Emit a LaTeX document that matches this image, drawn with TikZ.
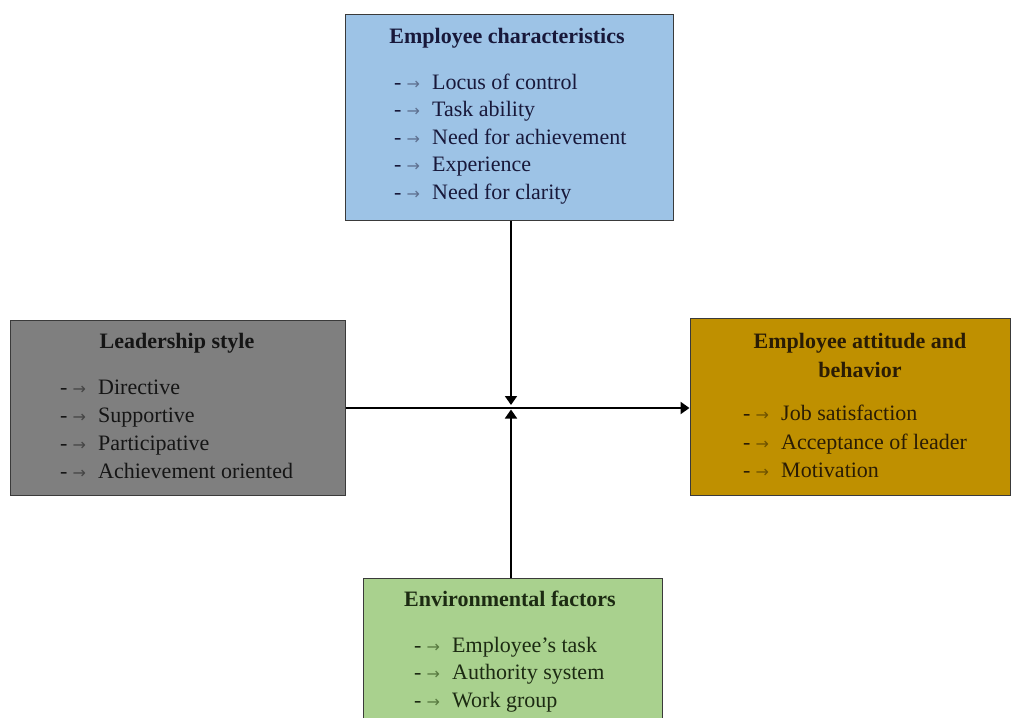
\documentclass[tikz,border=0pt]{standalone}
\usepackage{fontspec}
\setmainfont{Liberation Serif}
\newfontfamily\arrowfont{DejaVu Sans}
\usetikzlibrary{arrows.meta}

% box fills and borders
\definecolor{charblue}{HTML}{9DC3E6}
\definecolor{stylegray}{HTML}{7F7F7F}
\definecolor{outgold}{HTML}{BF9000}
\definecolor{envgreen}{HTML}{A9D18E}
\definecolor{boxedge}{HTML}{3A3A3A}
% text colours per box
\definecolor{chartext}{HTML}{18183A}
\definecolor{chararrow}{HTML}{5E7090}
\definecolor{styletext}{HTML}{151515}
\definecolor{stylearrow}{HTML}{454545}
\definecolor{outtext}{HTML}{2A1C05}
\definecolor{outarrow}{HTML}{6E5200}
\definecolor{envtext}{HTML}{1C2A12}
\definecolor{envarrow}{HTML}{587A40}

% "- ->" prefix of a list entry, hung to the left of the entry text
\newcommand{\entrymark}[1]{\llap{\makebox[38pt][l]{-\hspace{5pt}{\color{#1}\arrowfont\fontsize{16}{16}\selectfont →}}}}

\begin{document}
\begin{tikzpicture}[x=1pt,y=-1pt,
  box/.style={draw=boxedge, line width=1pt, rectangle, inner sep=0pt},
  boxtitle/.style={anchor=base, inner sep=0pt, font=\fontsize{22}{28}\selectfont\bfseries},
  entry/.style={anchor=base west, inner sep=0pt, font=\fontsize{22}{28}\selectfont},
  link/.style={draw=black, line width=1.7pt},
  mainlink/.style={draw=black, line width=2.6pt},
  tip/.style={-{Triangle[length=9pt,width=12pt]}}
]
\clip (0,0) rectangle (1013,718);
\fill[white] (0,0) rectangle (1013,718);

% ---- boxes ----
\node[box, fill=charblue,  minimum width=328pt, minimum height=206pt] (chars)   at (509,117) {};
\node[box, fill=stylegray, minimum width=335pt, minimum height=175pt] (style)   at (177.5,407.5) {};
\node[box, fill=outgold,   minimum width=320pt, minimum height=177pt] (outcome) at (850,406.5) {};
\node[box, fill=envgreen,  minimum width=299pt, minimum height=160pt] (env)     at (512.5,658) {};

% ---- employee characteristics ----
\node[boxtitle, text=chartext] (charsT) at (507,43) {Employee characteristics};
\foreach \t [count=\i from 0] in {Locus of control, Task ability, Need for achievement, Experience, Need for clarity}
  \node[entry, text=chartext] (chars-\i) at (432,89+27.5*\i) {\entrymark{chararrow}\t};

% ---- leadership style ----
\node[boxtitle, text=styletext] (styleT) at (177,348) {Leadership style};
\foreach \t [count=\i from 0] in {Directive, Supportive, Participative, Achievement oriented}
  \node[entry, text=styletext] (style-\i) at (98,394+28*\i) {\entrymark{stylearrow}\t};

% ---- employee attitude and behavior ----
\node[boxtitle, text=outtext] (outT1) at (860,348) {Employee attitude and};
\node[boxtitle, text=outtext] (outT2) at (860,377) {behavior};
\foreach \t [count=\i from 0] in {Job satisfaction, Acceptance of leader, Motivation}
  \node[entry, text=outtext] (outcome-\i) at (781,420.5+28.5*\i) {\entrymark{outarrow}\t};

% ---- environmental factors ----
\node[boxtitle, text=envtext] (envT) at (510,606) {Environmental factors};
\foreach \t [count=\i from 0] in {Employee’s task, Authority system, Work group}
  \node[entry, text=envtext] (env-\i) at (452,652+27.5*\i) {\entrymark{envarrow}\t};

% ---- connectors ----
\coordinate (hub) at (511,408);
\draw[mainlink, tip] (style.east |- hub) -- (outcome.west |- hub);
\draw[link, tip] (hub |- chars.south) -- ([yshift=3pt]hub);
\draw[link, tip] (hub |- env.north) -- ([yshift=-1.5pt]hub);
\end{tikzpicture}
\end{document}
